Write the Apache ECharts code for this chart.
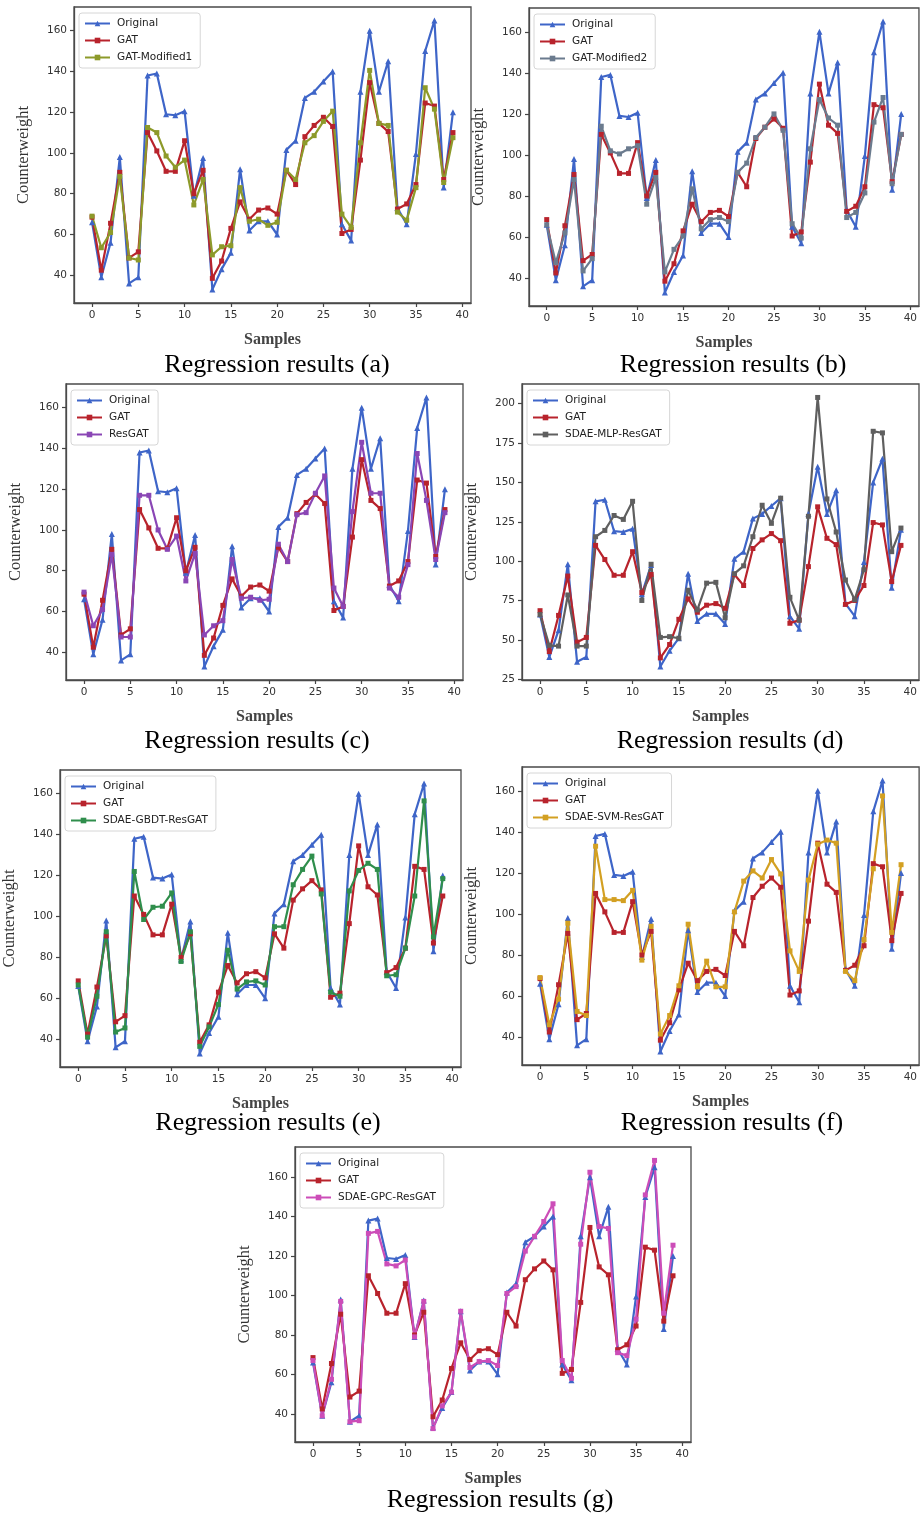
<!DOCTYPE html>
<html>
<head>
<meta charset="utf-8">
<script src="https://cdn.jsdelivr.net/npm/echarts@6/dist/echarts.min.js"></script>
<style>
  html, body { margin: 0; padding: 0; background: #fff; }
  #chart { width: 920px; height: 1516px; }
</style>
</head>
<body>
<div id="chart"></div>
<script>
// sample index (x)
const samples = [0,1,2,3,4,5,6,7,8,9,10,11,12,13,14,15,16,17,18,19,20,21,22,23,24,25,26,27,28,29,30,31,32,33,34,35,36,37,38,39];
const xTicks = [0, 5, 10, 15, 20, 25, 30, 35, 40];
const yTicks = [40, 60, 80, 100, 120, 140, 160];
const yTicksD = [25, 50, 75, 100, 125, 150, 175, 200];

// series
const original = [66, 39, 56, 98, 36, 39, 138, 139, 119, 118.5, 120.5, 79, 97.5, 33, 43, 51, 92, 62, 66.5, 66.5, 60, 101.5, 106, 127, 130, 135, 140, 65, 57, 130, 160, 130, 145, 73, 65, 99.5, 150, 165, 83, 120];
const gat = [68.5, 42.5, 65.5, 90.5, 48.5, 51.5, 110, 101, 91, 91, 106, 80, 91.5, 38.5, 47, 63, 76, 67.5, 72, 73, 70, 91.5, 84.5, 108, 113.5, 117.5, 113, 60.5, 62.5, 96.5, 134.5, 114.5, 110.5, 72.5, 75, 84.5, 124.5, 123, 87, 110];
const gatMod1 = [69, 53.5, 61, 88.5, 48.5, 47.5, 112.5, 110, 98.5, 93, 96.5, 74.5, 87, 50, 54, 54.5, 83, 66.5, 67.5, 64.5, 66, 91.5, 87, 105, 108.5, 115.5, 120.5, 70, 63.5, 105, 140.5, 114.5, 113.5, 71, 67, 83, 132, 121.5, 85.5, 107.5];
const gatMod2 = [66, 47.5, 62, 88, 43.5, 49.5, 114, 102, 100.5, 103, 104.5, 76, 89, 43, 54, 60.5, 83.5, 64, 68.5, 69.5, 67.5, 91.5, 96, 108.5, 113.5, 120, 112, 66.5, 59.5, 103, 127, 118, 114.5, 69.5, 72, 81.5, 116, 128, 86, 110];
const resGat = [69.5, 53, 61, 88, 47.5, 47.5, 117, 117, 100, 90.5, 97, 75, 88.5, 48.5, 53, 55.5, 85.5, 66.5, 67, 65.5, 66, 93, 84.5, 107.5, 108.5, 118, 126.5, 71.5, 62.5, 109, 143, 118, 118, 71.5, 67, 83, 137.5, 114.5, 85.5, 108.5];
const mlp = [66, 46.5, 46, 78.5, 46, 46, 115.5, 119.5, 129, 126.5, 138, 75, 98, 51.5, 52, 51, 81.5, 69, 86, 86.5, 64, 92, 97, 115.5, 135.5, 124, 140, 77, 62.5, 128.5, 204, 139.5, 118.5, 88, 75.5, 94.5, 182.5, 181.5, 106, 121];
const gbdt = [66.5, 41, 61, 92.5, 43.5, 45.5, 122, 98.5, 104.5, 105, 111.5, 78, 92.5, 36.5, 46, 57, 83.5, 64.5, 68, 68.5, 66.5, 95, 95, 115.5, 123, 129.5, 111, 63, 61, 112.5, 122.5, 126, 123, 71, 71.5, 84.5, 110, 156.5, 90, 118.5];
const svm = [69, 46, 58.5, 95.5, 52.5, 50.5, 133, 107, 107, 106.5, 111.5, 77.5, 94, 41.5, 50.5, 65, 95, 64.5, 77, 64.5, 64.5, 101, 116, 121, 117.5, 126.5, 119.5, 82, 72, 116.5, 134, 136, 134.5, 72, 67.5, 87.5, 122, 157.5, 91, 124];
const gpc = [67, 39, 57.5, 97, 36, 36.5, 131.5, 132.5, 116, 115, 118, 79, 97, 32.5, 44, 51, 92, 63.5, 66.5, 67, 64.5, 101, 104.5, 122.5, 130, 137.5, 146.5, 67, 58, 126, 162.5, 135, 134, 71, 69.5, 88, 151, 168.5, 91, 125.5];

const C_ORIG = '#3e65c8';
const C_GAT = '#b8232c';

// one entry per subplot
const panels = [
  { tag: '(a)', third: 'GAT-Modified1', data: gatMod1, color: '#8d9a2a', ticks: yTicks,
    box: { left: 74, top: 7, width: 397, height: 296 }, cap: [272, 347] },
  { tag: '(b)', third: 'GAT-Modified2', data: gatMod2, color: '#6b7b8e', ticks: yTicks,
    box: { left: 529, top: 8, width: 400, height: 298 }, cap: [728, 347] },
  { tag: '(c)', third: 'ResGAT', data: resGat, color: '#8a46b5', ticks: yTicks,
    box: { left: 66, top: 384, width: 397, height: 296 }, cap: [252, 723] },
  { tag: '(d)', third: 'SDAE-MLP-ResGAT', data: mlp, color: '#5f5f5f', ticks: yTicksD,
    box: { left: 522, top: 384, width: 397, height: 296 }, cap: [725, 723] },
  { tag: '(e)', third: 'SDAE-GBDT-ResGAT', data: gbdt, color: '#2f8e4c', ticks: yTicks,
    box: { left: 60, top: 770, width: 401, height: 297 }, cap: [263, 1105] },
  { tag: '(f)', third: 'SDAE-SVM-ResGAT', data: svm, color: '#d3a022', ticks: yTicks,
    box: { left: 522, top: 767, width: 400, height: 298 }, cap: [727, 1105] },
  { tag: '(g)', third: 'SDAE-GPC-ResGAT', data: gpc, color: '#cc4db8', ticks: yTicks,
    box: { left: 295, top: 1147, width: 396, height: 295 }, cap: [495, 1482] }
];

const pairs = vals => samples.map((s, i) => [s, vals[i]]);

const grid = [], xAxis = [], yAxis = [], series = [], legend = [], title = [];

panels.forEach((p, i) => {
  const all = original.concat(gat, p.data);
  const lo = Math.min(...all), hi = Math.max(...all);
  const pad = (hi - lo) * 0.05;

  grid.push(Object.assign({
    show: true, borderColor: '#4a4a4a', borderWidth: 1.3, backgroundColor: '#fff'
  }, p.box));

  xAxis.push({
    type: 'value', gridIndex: i, min: -1.95, max: 40.95,
    name: 'Samples', nameLocation: 'middle', nameGap: 29,
    nameTextStyle: { fontFamily: 'Liberation Serif', fontSize: 16, color: '#444', fontWeight: 'bold' },
    axisLine: { show: true, onZero: false, lineStyle: { color: '#4a4a4a', width: 1.3 } },
    axisTick: { show: true, length: 4, customValues: xTicks, lineStyle: { color: '#444', width: 1.2 } },
    axisLabel: { customValues: xTicks, margin: 7, fontFamily: 'DejaVu Sans', fontSize: 10.5, color: '#333' },
    splitLine: { show: false }
  });

  yAxis.push({
    type: 'value', gridIndex: i, min: lo - pad, max: hi + pad,
    name: 'Counterweight', nameLocation: 'middle', nameGap: 42,
    nameTextStyle: { fontFamily: 'Liberation Serif', fontSize: 16.5, color: '#333' },
    axisLine: { show: true, onZero: false, lineStyle: { color: '#4a4a4a', width: 1.3 } },
    axisTick: { show: true, length: 4, customValues: p.ticks, lineStyle: { color: '#444', width: 1.2 } },
    axisLabel: { customValues: p.ticks, margin: 7, fontFamily: 'DejaVu Sans', fontSize: 10.5, color: '#333' },
    splitLine: { show: false }
  });

  const mk = (name, vals, color, symbol) => ({
    name: name, type: 'line', xAxisIndex: i, yAxisIndex: i,
    data: pairs(vals), symbol: symbol, symbolSize: symbol === 'triangle' ? 6 : 5,
    showAllSymbol: true,
    lineStyle: { color: color, width: 2.2 },
    itemStyle: { color: color }
  });
  series.push(mk('Original', original, C_ORIG, 'triangle'));
  series.push(mk('GAT', gat, C_GAT, 'rect'));
  series.push(mk(p.third, p.data, p.color, 'rect'));

  legend.push({
    orient: 'vertical', left: p.box.left + 5, top: p.box.top + 6,
    data: ['Original', 'GAT', p.third],
    itemWidth: 25, itemHeight: 7, itemGap: 4,
    padding: [4, 8, 4, 5],
    backgroundColor: 'rgba(255,255,255,0.85)',
    borderColor: '#d6d6d6', borderWidth: 1, borderRadius: 3,
    selectedMode: false,
    textStyle: { fontFamily: 'DejaVu Sans', fontSize: 10.5, color: '#222', lineHeight: 13, padding: [0, 0, 0, 2] }
  });

  title.push({
    text: 'Regression results ' + p.tag,
    left: p.cap[0], top: p.cap[1], textAlign: 'center',
    textStyle: { fontFamily: 'Liberation Serif', fontSize: 26, fontWeight: 'normal', color: '#000' }
  });
});

const chart = echarts.init(document.getElementById('chart'), null, { renderer: 'canvas' });
chart.setOption({
  animation: false,
  backgroundColor: '#fff',
  title: title,
  legend: legend,
  grid: grid,
  xAxis: xAxis,
  yAxis: yAxis,
  series: series
});
</script>
</body>
</html>
